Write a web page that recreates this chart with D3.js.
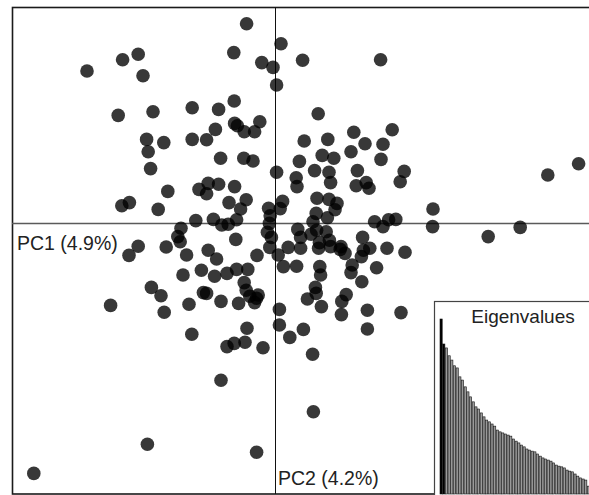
<!DOCTYPE html>
<html>
<head>
<meta charset="utf-8">
<script src="https://cdn.jsdelivr.net/npm/d3@7"></script>
<style>
  body { margin: 0; background: #fff; }
  svg { display: block; font-family: "Liberation Sans", Arial, sans-serif; }
</style>
</head>
<body>
<div id="pcaplot"></div>
<script>
// PCA scores
var pc1 = [-0.71,0.15,-3.42,-3.81,-1.03,-0.33,-0.05,0.69,2.64,-4.70,
  -3.30,0.04,-3.92,-3.05,-2.07,-1.41,-1.02,1.08,-1.01,-0.94,
  -0.38,-1.49,-0.77,-0.51,1.97,2.93,-3.21,-2.78,-2.07,-1.71,
  0.73,1.32,2.25,2.70,-3.17,-1.36,-0.78,-0.55,1.18,1.47,
  1.90,2.65,-3.11,0.04,0.61,0.99,1.35,2.06,3.23,3.13,
  0.53,0.55,1.39,2.03,2.28,2.35,6.82,7.59,-2.68,-1.90,
  -1.67,-1.41,-1.01,-1.71,-3.83,-3.64,-2.92,-1.15,-0.72,-0.86,
  -0.16,0.19,-0.12,0.13,1.05,1.35,1.55,1.50,1.03,1.31,
  3.95,3.94,5.33,6.13,-2.35,-2.43,-1.98,-1.54,-1.33,-1.17,
  -0.96,-0.14,-0.19,-0.09,2.49,2.70,2.84,3.02,0.95,0.57,
  0.64,0.90,1.04,1.28,1.36,-3.42,-3.65,-2.72,-2.37,-2.21,
  -1.67,-1.46,-0.98,-0.45,-0.13,0.08,0.33,0.64,1.11,1.09,
  1.39,1.65,1.75,1.63,2.19,2.21,2.37,2.16,2.80,3.25,
  2.54,-2.30,-1.84,-1.51,-1.20,-0.96,-0.68,-0.77,0.21,0.54,
  1.12,1.14,1.93,1.90,2.17,-3.09,-2.85,-1.79,-1.71,-0.72,
  -0.63,-0.46,-0.42,-0.51,1.01,1.03,0.81,1.16,1.78,1.67,
  -4.11,-2.77,-2.15,-1.35,-0.91,0.11,1.66,2.31,3.15,0.11,
  -0.70,-2.08,0.71,0.37,2.31,-1.20,-1.02,-0.75,-0.30,0.94,
  -1.35,0.96,-3.19,-0.46,-6.03];

var pc2 = [4.98,4.48,4.22,4.08,4.26,4.01,3.89,4.07,4.08,3.80,
  3.68,3.45,2.69,2.78,2.88,2.84,3.05,2.73,2.49,2.43,
  2.53,2.34,2.28,2.28,2.27,2.33,2.09,2.01,2.09,2.08,
  2.05,2.09,1.98,1.97,1.78,1.62,1.62,1.55,1.69,1.62,
  1.78,1.59,1.36,1.27,1.54,1.31,1.27,1.31,1.29,1.03,
  1.13,0.91,1.01,0.93,1.01,0.87,1.20,1.48,0.79,0.84,
  0.99,0.97,0.91,0.73,0.43,0.51,0.34,0.51,0.58,0.35,
  0.37,0.54,0.18,0.36,0.62,0.59,0.49,0.33,0.24,0.13,
  0.35,-0.09,-0.34,-0.11,-0.13,-0.34,0.06,0.09,-0.05,-0.03,
  0.08,-0.01,-0.23,-0.36,0.03,-0.09,0.08,0.09,0.03,-0.16,
  -0.36,-0.28,-0.18,-0.22,-0.43,-0.58,-0.81,-0.60,-0.47,-0.80,
  -0.68,-0.90,-0.41,-0.81,-0.61,-0.80,-0.61,-0.63,-0.49,-0.63,
  -0.59,-0.59,-0.76,-0.66,-0.36,-0.68,-0.63,-0.84,-0.63,-0.73,
  -1.12,-1.30,-1.18,-1.33,-1.26,-1.16,-1.16,-1.49,-1.09,-1.08,
  -1.09,-1.30,-1.05,-1.24,-1.47,-1.61,-1.82,-1.74,-1.76,-1.68,
  -1.83,-1.88,-1.80,-1.99,-1.61,-1.76,-1.90,-2.09,-1.79,-1.96,
  -2.06,-2.23,-2.03,-1.96,-2.01,-2.16,-2.29,-2.18,-2.24,-2.55,
  -2.63,-2.78,-2.66,-2.86,-2.65,-3.09,-3.01,-2.98,-3.12,-3.28,
  -3.93,-4.72,-5.53,-5.73,-6.26];

// eigenvalues (% of variance), first two are the plotted axes
var eigen = [4.90,4.20,4.09,3.87,3.75,3.59,3.53,3.28,3.19,3.00,
  2.86,2.72,2.58,2.44,2.38,2.27,2.16,2.07,2.02,1.96,
  1.90,1.79,1.74,1.71,1.68,1.65,1.62,1.54,1.48,1.43,
  1.37,1.32,1.26,1.23,1.20,1.18,1.12,1.06,1.01,0.98,
  0.95,0.92,0.87,0.81,0.78,0.76,0.73,0.67,0.64,0.62,
  0.56,0.50,0.45,0.42,0.39,0.22];

var axisLabels = ["PC1 (4.9%)", "PC2 (4.2%)"];
var insetTitle = "Eigenvalues";

var svg = d3.select("#pcaplot")
  .append("svg")
  .attr("width", 589)
  .attr("height", 495);

// scales: origin sits at (275, 223)
var x = d3.scaleLinear()
  .domain([-6.575, 8.125])
  .range([12, 600]);

var y = d3.scaleLinear()
  .domain([5.4, -6.775])
  .range([7, 494]);

// frame
svg.append("rect")
  .attr("x", 12.5)
  .attr("y", 7.5)
  .attr("width", 600)
  .attr("height", 486.5)
  .style("fill", "none")
  .style("stroke", "#1a1a1a")
  .style("stroke-width", 1.6);

// axes through origin
svg.append("line")
  .attr("x1", 12).attr("x2", 589)
  .attr("y1", y(0) + 0.5).attr("y2", y(0) + 0.5)
  .style("stroke", "#5a5a5a")
  .style("stroke-width", 1.4);

svg.append("line")
  .attr("x1", x(0) + 0.5).attr("x2", x(0) + 0.5)
  .attr("y1", 7).attr("y2", 494)
  .style("stroke", "#111")
  .style("stroke-width", 1);

// points
var points = pc1.map(function(d, i) { return {x: d, y: pc2[i]}; });

svg.append("g")
  .selectAll("circle")
  .data(points)
  .enter()
  .append("circle")
    .attr("cx", function(d) { return x(d.x); })
    .attr("cy", function(d) { return y(d.y); })
    .attr("r", 6.8)
    .style("fill", "#000")
    .style("fill-opacity", 0.78);

// axis labels
svg.append("text")
  .attr("x", 17)
  .attr("y", 250)
  .style("font-size", "19.5px")
  .style("fill", "#222")
  .text(axisLabels[0]);

svg.append("text")
  .attr("x", x(0) + 3)
  .attr("y", 485)
  .style("font-size", "19.5px")
  .style("fill", "#222")
  .text(axisLabels[1]);

// eigenvalue inset
var inset = svg.append("g");

inset.append("rect")
  .attr("x", 434.5)
  .attr("y", 301.5)
  .attr("width", 200)
  .attr("height", 200)
  .style("fill", "#fff")
  .style("stroke", "#444")
  .style("stroke-width", 1.2);

inset.append("text")
  .attr("x", 523)
  .attr("y", 323)
  .style("text-anchor", "middle")
  .style("font-size", "19px")
  .style("fill", "#222")
  .text(insetTitle);

var xb = d3.scaleBand()
  .domain(d3.range(eigen.length))
  .range([440, 440 + eigen.length * 2.67])
  .paddingInner(0.18)
  .paddingOuter(0);

var yb = d3.scaleLinear()
  .domain([0, 4.9])
  .range([494, 319]);

inset.append("g")
  .selectAll("rect")
  .data(eigen)
  .enter()
  .append("rect")
    .attr("x", function(d, i) { return xb(i); })
    .attr("y", function(d) { return yb(d); })
    .attr("width", xb.bandwidth())
    .attr("height", function(d) { return yb(0) - yb(d); })
    .style("fill", function(d, i) { return i < 2 ? "#000" : "#9a9a9a"; })
    .style("stroke", "#111")
    .style("stroke-width", 0.6);
</script>
</body>
</html>
